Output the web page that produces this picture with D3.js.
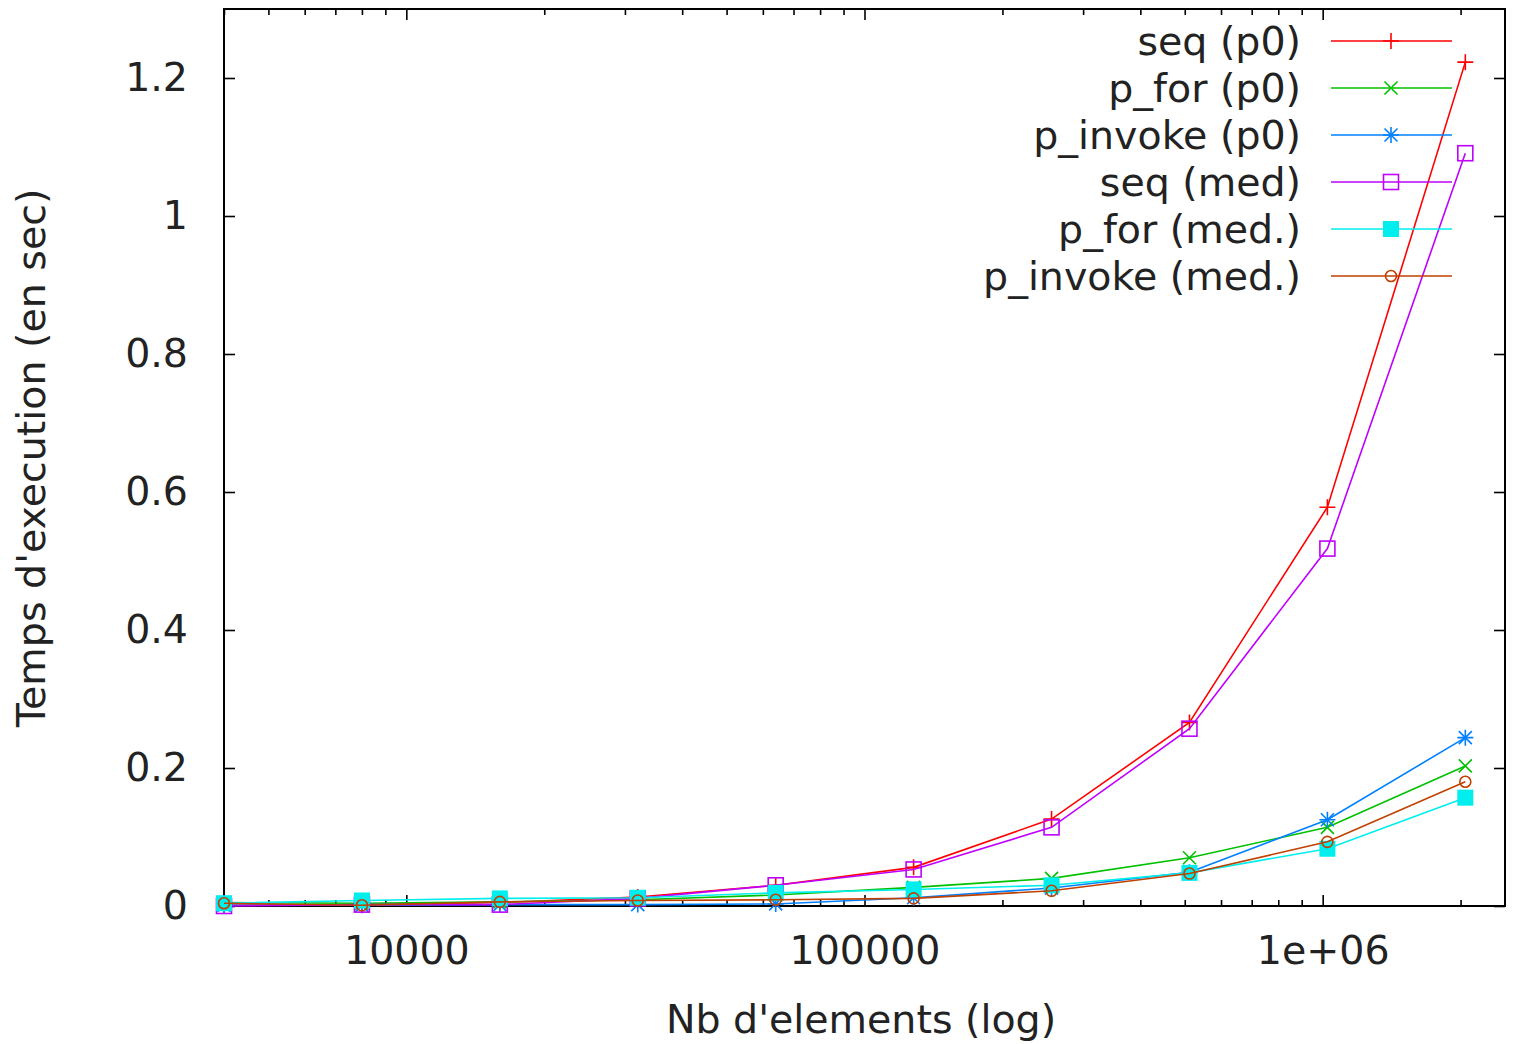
<!DOCTYPE html>
<html>
<head>
<meta charset="utf-8">
<script src="https://cdn.jsdelivr.net/npm/d3@7"></script>
<style>
  body { margin: 0; background: #fff; }
  svg text { font-family: "DejaVu Sans", sans-serif; fill: #222; }
</style>
</head>
<body>
<div id="chart"></div>
<script>
// nombre d'elements (axe x, log)
const sizes = [4000, 8000, 16000, 32000, 64000, 128000, 256000, 512000, 1024000, 2048000];

// temps en secondes
const seqP0      = [0.001, 0.002, 0.005, 0.013, 0.030, 0.056, 0.126, 0.266, 0.578, 1.223];
const pForP0     = [0.005, 0.004, 0.006, 0.009, 0.016, 0.027, 0.040, 0.070, 0.114, 0.203];
const pInvokeP0  = [0.001, 0.001, 0.002, 0.002, 0.003, 0.012, 0.026, 0.049, 0.125, 0.244];
const seqMed     = [0.000, 0.002, 0.002, 0.011, 0.030, 0.053, 0.114, 0.257, 0.518, 1.091];
const pForMed    = [0.004, 0.008, 0.011, 0.012, 0.019, 0.024, 0.030, 0.048, 0.083, 0.157];
const pInvokeMed = [0.004, 0.001, 0.006, 0.008, 0.009, 0.011, 0.022, 0.047, 0.093, 0.180];

const seriesNames = ["seq (p0)", "p_for (p0)", "p_invoke (p0)", "seq (med)", "p_for (med.)", "p_invoke (med.)"];
const seriesValues = [seqP0, pForP0, pInvokeP0, seqMed, pForMed, pInvokeMed];
const seriesColors = ["#ff0000", "#00c000", "#0080ff", "#c000ff", "#00eeee", "#c04000"];
const seriesMarkers = ["plus", "cross", "star", "box", "boxfill", "circle"];

const xTicks = [10000, 100000, 1000000];
const xTickLabels = ["10000", "100000", "1e+06"];
const yTicks = [0, 0.2, 0.4, 0.6, 0.8, 1, 1.2];
const yTickLabels = ["0", "0.2", "0.4", "0.6", "0.8", "1", "1.2"];

const W = 1518, H = 1044;
const pLeft = 224, pRight = 1505, pTop = 9, pBottom = 906;
const fontSize = "39.5px";

const svg = d3.select("#chart").append("svg")
    .attr("width", W)
    .attr("height", H);

const x = d3.scaleLog().domain([4000, 2500000]).range([pLeft, pRight]);
const y = d3.scaleLinear().domain([0, 1.3]).range([pBottom, pTop]);

// ticks mineurs du log (2..9 x 10^n)
const minorTicks = x.ticks().filter(v => xTicks.indexOf(v) < 0);

// axe bas
svg.append("g")
    .attr("transform", "translate(0," + pBottom + ")")
    .call(d3.axisBottom(x).tickValues(minorTicks).tickSize(-6).tickFormat(""))
    .call(g => g.select(".domain").remove());
svg.append("g")
    .attr("transform", "translate(0," + pBottom + ")")
    .call(d3.axisBottom(x).tickValues(xTicks).tickSize(-11).tickPadding(30)
        .tickFormat((d, i) => xTickLabels[i]))
    .call(g => g.select(".domain").remove())
    .call(g => g.selectAll("text").style("font-size", fontSize).attr("fill", "#222"));

// axe haut (miroir)
svg.append("g")
    .attr("transform", "translate(0," + pTop + ")")
    .call(d3.axisTop(x).tickValues(minorTicks).tickSize(-6).tickFormat(""))
    .call(g => g.select(".domain").remove());
svg.append("g")
    .attr("transform", "translate(0," + pTop + ")")
    .call(d3.axisTop(x).tickValues(xTicks).tickSize(-11).tickFormat(""))
    .call(g => g.select(".domain").remove());

// axe gauche
svg.append("g")
    .attr("transform", "translate(" + pLeft + ",0)")
    .call(d3.axisLeft(y).tickValues(yTicks).tickSize(-11).tickPadding(36)
        .tickFormat((d, i) => yTickLabels[i]))
    .call(g => g.select(".domain").remove())
    .call(g => g.selectAll("text").style("font-size", fontSize).attr("fill", "#222"));

// axe droit (miroir)
svg.append("g")
    .attr("transform", "translate(" + pRight + ",0)")
    .call(d3.axisRight(y).tickValues(yTicks).tickSize(-11).tickFormat(""))
    .call(g => g.select(".domain").remove());

svg.selectAll(".tick line").attr("stroke", "#000").attr("stroke-width", 1.6);

// cadre
svg.append("rect")
    .attr("x", pLeft).attr("y", pTop)
    .attr("width", pRight - pLeft).attr("height", pBottom - pTop)
    .attr("fill", "none")
    .attr("stroke", "#000")
    .attr("stroke-width", 2);

// titres
svg.append("text")
    .attr("x", 861)
    .attr("y", 1033)
    .attr("text-anchor", "middle")
    .style("font-size", fontSize)
    .text("Nb d'elements (log)");

svg.append("text")
    .attr("transform", "translate(45,458) rotate(-90)")
    .attr("text-anchor", "middle")
    .style("font-size", fontSize)
    .text("Temps d'execution (en sec)");

// marqueurs facon gnuplot
function drawMarker(g, type, color) {
    if (type === "plus" || type === "star") {
        g.append("path").attr("d", "M-8,0H8M0,-8V8")
            .attr("stroke", color).attr("stroke-width", 1.6).attr("fill", "none");
    }
    if (type === "cross" || type === "star") {
        g.append("path").attr("d", "M-6.5,-6.5L6.5,6.5M-6.5,6.5L6.5,-6.5")
            .attr("stroke", color).attr("stroke-width", 1.6).attr("fill", "none");
    }
    if (type === "box") {
        g.append("rect").attr("x", -7.5).attr("y", -7.5).attr("width", 15).attr("height", 15)
            .attr("stroke", color).attr("stroke-width", 1.6).attr("fill", "none");
    }
    if (type === "boxfill") {
        g.append("rect").attr("x", -8).attr("y", -8).attr("width", 16).attr("height", 16)
            .attr("fill", color);
    }
    if (type === "circle") {
        g.append("circle").attr("r", 5.5)
            .attr("stroke", color).attr("stroke-width", 1.6).attr("fill", "none");
    }
}

const line = d3.line()
    .x(d => x(d.n))
    .y(d => y(d.t));

const legendTop = 41, legendStep = 47;

for (let i = 0; i < seriesNames.length; i++) {
    const color = seriesColors[i];
    const pts = sizes.map((n, j) => ({ n: n, t: seriesValues[i][j] }));

    // legende
    const ly = legendTop + i * legendStep;
    svg.append("text")
        .attr("x", 1301)
        .attr("y", ly)
        .attr("dy", "0.35em")
        .attr("text-anchor", "end")
        .style("font-size", fontSize)
        .text(seriesNames[i]);
    svg.append("line")
        .attr("x1", 1331).attr("x2", 1452)
        .attr("y1", ly).attr("y2", ly)
        .attr("stroke", color)
        .attr("stroke-width", 1.6);
    drawMarker(svg.append("g").attr("transform", "translate(1391," + ly + ")"), seriesMarkers[i], color);

    // courbe
    svg.append("path")
        .attr("fill", "none")
        .attr("stroke", color)
        .attr("stroke-width", 1.6)
        .attr("d", line(pts));

    pts.forEach(p => {
        drawMarker(svg.append("g").attr("transform", "translate(" + x(p.n) + "," + y(p.t) + ")"),
            seriesMarkers[i], color);
    });
}
</script>
</body>
</html>
